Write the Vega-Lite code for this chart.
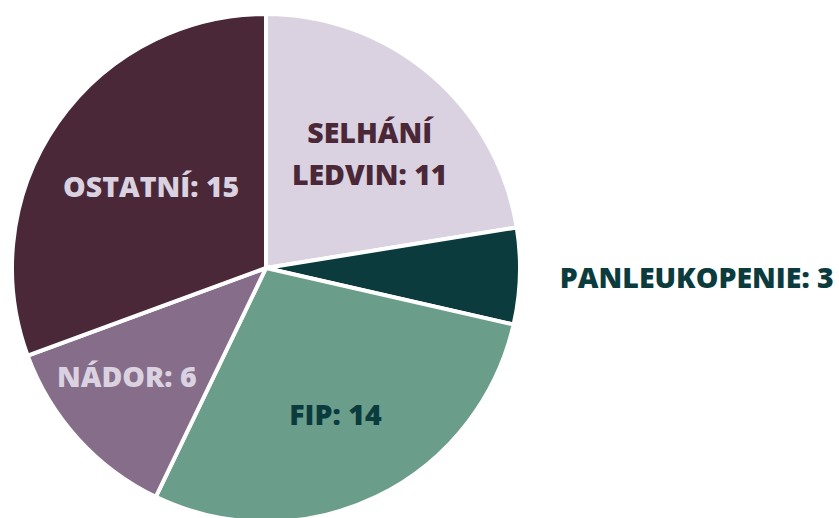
{
  "$schema": "https://vega.github.io/schema/vega-lite/v6.json",
  "width": 532,
  "height": 536,
  "autosize": "none",
  "padding": {"left": 0, "top": 0, "right": 307, "bottom": 0},
  "background": "white",
  "view": {"stroke": null},
  "config": {"font": "Open Sans"},
  "data": {
    "values": [
      {"i": 1, "name": "Selhání ledvin", "value": 11, "label": "SELHÁNÍ\nLEDVIN: 11"},
      {"i": 2, "name": "Panleukopenie", "value": 3, "label": "PANLEUKOPENIE: 3"},
      {"i": 3, "name": "FIP", "value": 14, "label": "FIP: 14"},
      {"i": 4, "name": "Nádor", "value": 6, "label": "NÁDOR: 6"},
      {"i": 5, "name": "Ostatní", "value": 15, "label": "OSTATNÍ: 15"}
    ]
  },
  "encoding": {
    "theta": {"field": "value", "type": "quantitative", "stack": true},
    "order": {"field": "i", "type": "quantitative"}
  },
  "layer": [
    {
      "mark": {"type": "arc", "outerRadius": 254, "stroke": "white", "strokeWidth": 4},
      "encoding": {
        "color": {
          "field": "name", "type": "nominal", "legend": null,
          "scale": {
            "domain": ["Selhání ledvin", "Panleukopenie", "FIP", "Nádor", "Ostatní"],
            "range": ["#dad2e0", "#0b3b3d", "#6b9d8b", "#866d8a", "#4a2838"]
          }
        }
      }
    },
    {
      "mark": {"type": "text", "radius": 160, "fontSize": 28.5, "fontWeight": 800, "lineBreak": "\n", "lineHeight": 42, "dy": -12, "color": "#4a2838"},
      "encoding": {"text": {"condition": {"test": "datum.name === 'Selhání ledvin'", "field": "label"}, "value": ""}}
    },
    {
      "mark": {"type": "text", "radius": 140, "fontSize": 28.5, "fontWeight": 800, "color": "#dad2e0"},
      "encoding": {"text": {"condition": {"test": "datum.name === 'Ostatní'", "field": "label"}, "value": ""}}
    },
    {
      "mark": {"type": "text", "radius": 188, "fontSize": 28.5, "fontWeight": 800, "dy": -16, "color": "#dad2e0"},
      "encoding": {"text": {"condition": {"test": "datum.name === 'Nádor'", "field": "label"}, "value": ""}}
    },
    {
      "mark": {"type": "text", "radius": 160, "fontSize": 28.5, "fontWeight": 800, "dy": 4, "color": "#0b3b3d"},
      "encoding": {"text": {"condition": {"test": "datum.name === 'FIP'", "field": "label"}, "value": ""}}
    },
    {
      "mark": {"type": "text", "radius": 294, "fontSize": 28.5, "fontWeight": 800, "align": "left", "dy": 2, "color": "#0b3b3d"},
      "encoding": {"text": {"condition": {"test": "datum.name === 'Panleukopenie'", "field": "label"}, "value": ""}}
    }
  ]
}
